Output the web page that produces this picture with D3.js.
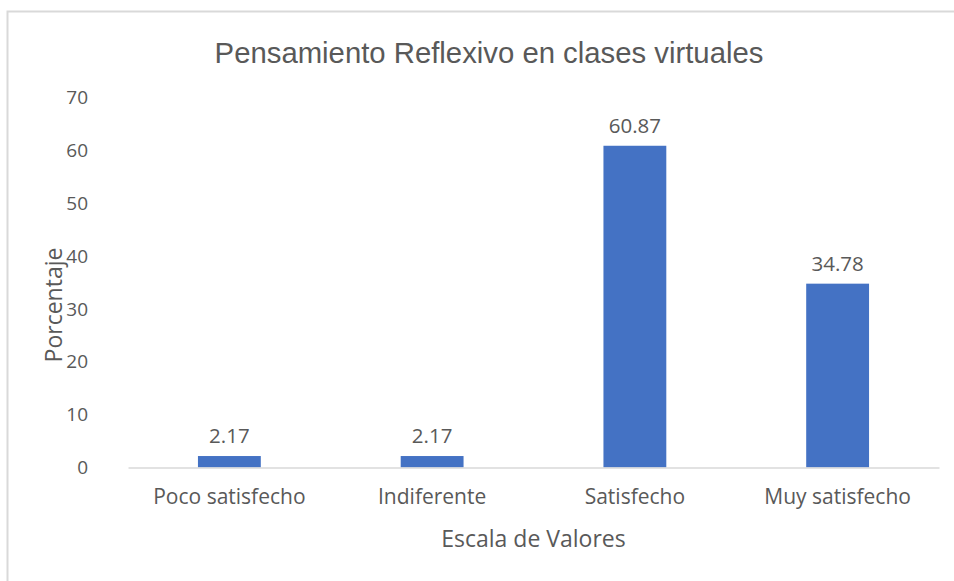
<!DOCTYPE html>
<html>
<head>
<meta charset="utf-8">
<script src="https://cdn.jsdelivr.net/npm/d3@7"></script>
<style>
  body { margin: 0; background: #fff; }
  text { fill: #595959; }
</style>
</head>
<body>
<svg id="chart" width="954" height="581"></svg>
<script>
const categories = ['Poco satisfecho', 'Indiferente', 'Satisfecho', 'Muy satisfecho'];
const values = [2.17, 2.17, 60.87, 34.78];
const yTicks = [0, 10, 20, 30, 40, 50, 60, 70];
const title = 'Pensamiento Reflexivo en clases virtuales';
const xTitle = 'Escala de Valores';
const yTitle = 'Porcentaje';

const svg = d3.select('#chart');
const bodyFont = '"Open Sans", "DejaVu Sans", sans-serif';

// chart border (runs off the right and bottom edges)
svg.append('rect')
  .attr('x', 7.5)
  .attr('y', 11.5)
  .attr('width', 960)
  .attr('height', 600)
  .attr('fill', 'none')
  .attr('stroke', '#d9d9d9')
  .attr('stroke-width', 2);

const plot = { left: 128, right: 939, top: 97.5, bottom: 467.5 };

const x = d3.scaleBand()
  .domain(categories)
  .range([plot.left, plot.right])
  .paddingInner(0.69)
  .paddingOuter(0.345);

const y = d3.scaleLinear()
  .domain([0, 70])
  .range([plot.bottom, plot.top]);

// title
svg.append('text')
  .attr('x', 489)
  .attr('y', 63)
  .attr('text-anchor', 'middle')
  .style('font-family', '"Liberation Sans", Arial, sans-serif')
  .style('font-size', '29.3px')
  .text(title);

// y axis (labels only)
const yAxis = svg.append('g')
  .attr('transform', `translate(${plot.left},0)`)
  .call(d3.axisLeft(y).tickValues(yTicks).tickSize(0).tickPadding(40));
yAxis.select('.domain').remove();
yAxis.selectAll('text')
  .style('font-family', bodyFont)
  .style('font-size', '19px')
  .style('fill', '#595959');

// bars
svg.append('g')
  .selectAll('rect')
  .data(values)
  .join('rect')
  .attr('x', (d, i) => x(categories[i]))
  .attr('y', d => y(d))
  .attr('width', x.bandwidth())
  .attr('height', d => y(0) - y(d))
  .attr('fill', '#4472c4');

// x axis
const xAxis = svg.append('g')
  .attr('transform', `translate(0,${plot.bottom})`)
  .call(d3.axisBottom(x).tickSize(0).tickPadding(22));
xAxis.select('.domain')
  .attr('stroke', '#d9d9d9')
  .attr('stroke-width', 1.5);
xAxis.selectAll('text')
  .style('font-family', bodyFont)
  .style('font-size', '21px')
  .style('fill', '#595959');

// value labels
svg.append('g')
  .selectAll('text')
  .data(values)
  .join('text')
  .attr('x', (d, i) => x(categories[i]) + x.bandwidth() / 2)
  .attr('y', d => y(d) - 13)
  .attr('text-anchor', 'middle')
  .style('font-family', bodyFont)
  .style('font-size', '20.5px')
  .text(d => d.toFixed(2));

// axis titles
svg.append('text')
  .attr('x', (plot.left + plot.right) / 2)
  .attr('y', 547)
  .attr('text-anchor', 'middle')
  .style('font-family', bodyFont)
  .style('font-size', '23px')
  .text(xTitle);

svg.append('text')
  .attr('transform', `translate(62,305) rotate(-90)`)
  .attr('text-anchor', 'middle')
  .style('font-family', bodyFont)
  .style('font-size', '23px')
  .text(yTitle);
</script>
</body>
</html>
